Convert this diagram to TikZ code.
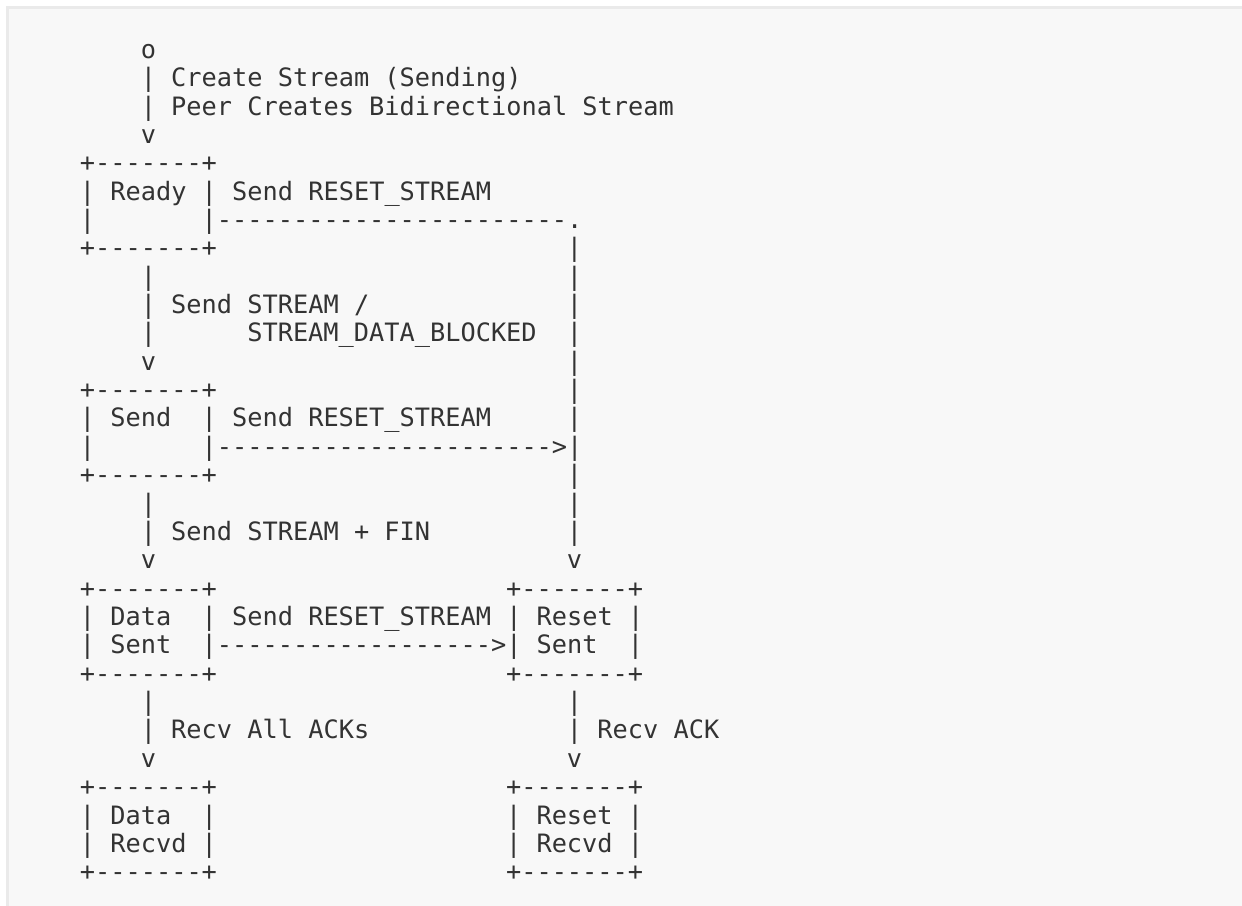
\documentclass[tikz,border=0pt]{standalone}
\usepackage{fontspec}
\setmonofont{DejaVu Sans Mono}
\definecolor{codebg}{HTML}{F8F8F8}
\definecolor{codeborder}{HTML}{EAEAEA}
\definecolor{ink}{HTML}{333333}
\tikzset{
  ascii/.style={anchor=base west, inner sep=0pt, outer sep=0pt,
    font=\fontsize{25.3}{28}\selectfont\ttfamily, text=ink}
}
\newcommand\At[4]{\node[ascii] (#1) at ({79.9+15.22*#2},{58.3+28.36*#3}) {#4};}
\begin{document}
\begin{tikzpicture}[x=1pt,y=-1pt]
\useasboundingbox (0,0) rectangle (1242,905);
\fill[codebg] (8,8) rectangle (1250,913);
\draw[codeborder, line width=2.5pt] (7.5,915) -- (7.5,7.5) -- (1250,7.5);
% start
\At{r0}{4}{0}{o}
\At{r1}{4}{1}{| Create Stream (Sending)}
\At{r2}{4}{2}{| Peer Creates Bidirectional Stream}
\At{r3}{4}{3}{v}
% Ready
\At{r4a}{0}{4}{+-------+}
\At{r5a}{0}{5}{| Ready | Send RESET\_STREAM}
\At{r6a}{0}{6}{|}
\At{r6b}{8}{6}{|-----------------------.}
\At{r7a}{0}{7}{+-------+}
\At{r7b}{32}{7}{|}
\At{r8a}{4}{8}{|}
\At{r8b}{32}{8}{|}
\At{r9a}{4}{9}{| Send STREAM /}
\At{r9b}{32}{9}{|}
\At{r10a}{4}{10}{|}
\At{r10b}{11}{10}{STREAM\_DATA\_BLOCKED}
\At{r10c}{32}{10}{|}
\At{r11a}{4}{11}{v}
\At{r11b}{32}{11}{|}
% Send
\At{r12a}{0}{12}{+-------+}
\At{r12b}{32}{12}{|}
\At{r13a}{0}{13}{| Send}
\At{r13b}{8}{13}{| Send RESET\_STREAM}
\At{r13c}{32}{13}{|}
\At{r14a}{0}{14}{|}
\At{r14b}{8}{14}{|---------------------->|}
\At{r15a}{0}{15}{+-------+}
\At{r15b}{32}{15}{|}
\At{r16a}{4}{16}{|}
\At{r16b}{32}{16}{|}
\At{r17a}{4}{17}{| Send STREAM + FIN}
\At{r17b}{32}{17}{|}
\At{r18a}{4}{18}{v}
\At{r18b}{32}{18}{v}
% Data Sent / Reset Sent
\At{r19a}{0}{19}{+-------+}
\At{r19b}{28}{19}{+-------+}
\At{r20a}{0}{20}{| Data}
\At{r20b}{8}{20}{| Send RESET\_STREAM | Reset |}
\At{r21a}{0}{21}{| Sent}
\At{r21b}{8}{21}{|------------------>| Sent}
\At{r21c}{36}{21}{|}
\At{r22a}{0}{22}{+-------+}
\At{r22b}{28}{22}{+-------+}
\At{r23a}{4}{23}{|}
\At{r23b}{32}{23}{|}
\At{r24a}{4}{24}{| Recv All ACKs}
\At{r24b}{32}{24}{| Recv ACK}
\At{r25a}{4}{25}{v}
\At{r25b}{32}{25}{v}
% Data Recvd / Reset Recvd
\At{r26a}{0}{26}{+-------+}
\At{r26b}{28}{26}{+-------+}
\At{r27a}{0}{27}{| Data}
\At{r27b}{8}{27}{|}
\At{r27c}{28}{27}{| Reset |}
\At{r28a}{0}{28}{| Recvd |}
\At{r28b}{28}{28}{| Recvd |}
\At{r29a}{0}{29}{+-------+}
\At{r29b}{28}{29}{+-------+}
\end{tikzpicture}
\end{document}
